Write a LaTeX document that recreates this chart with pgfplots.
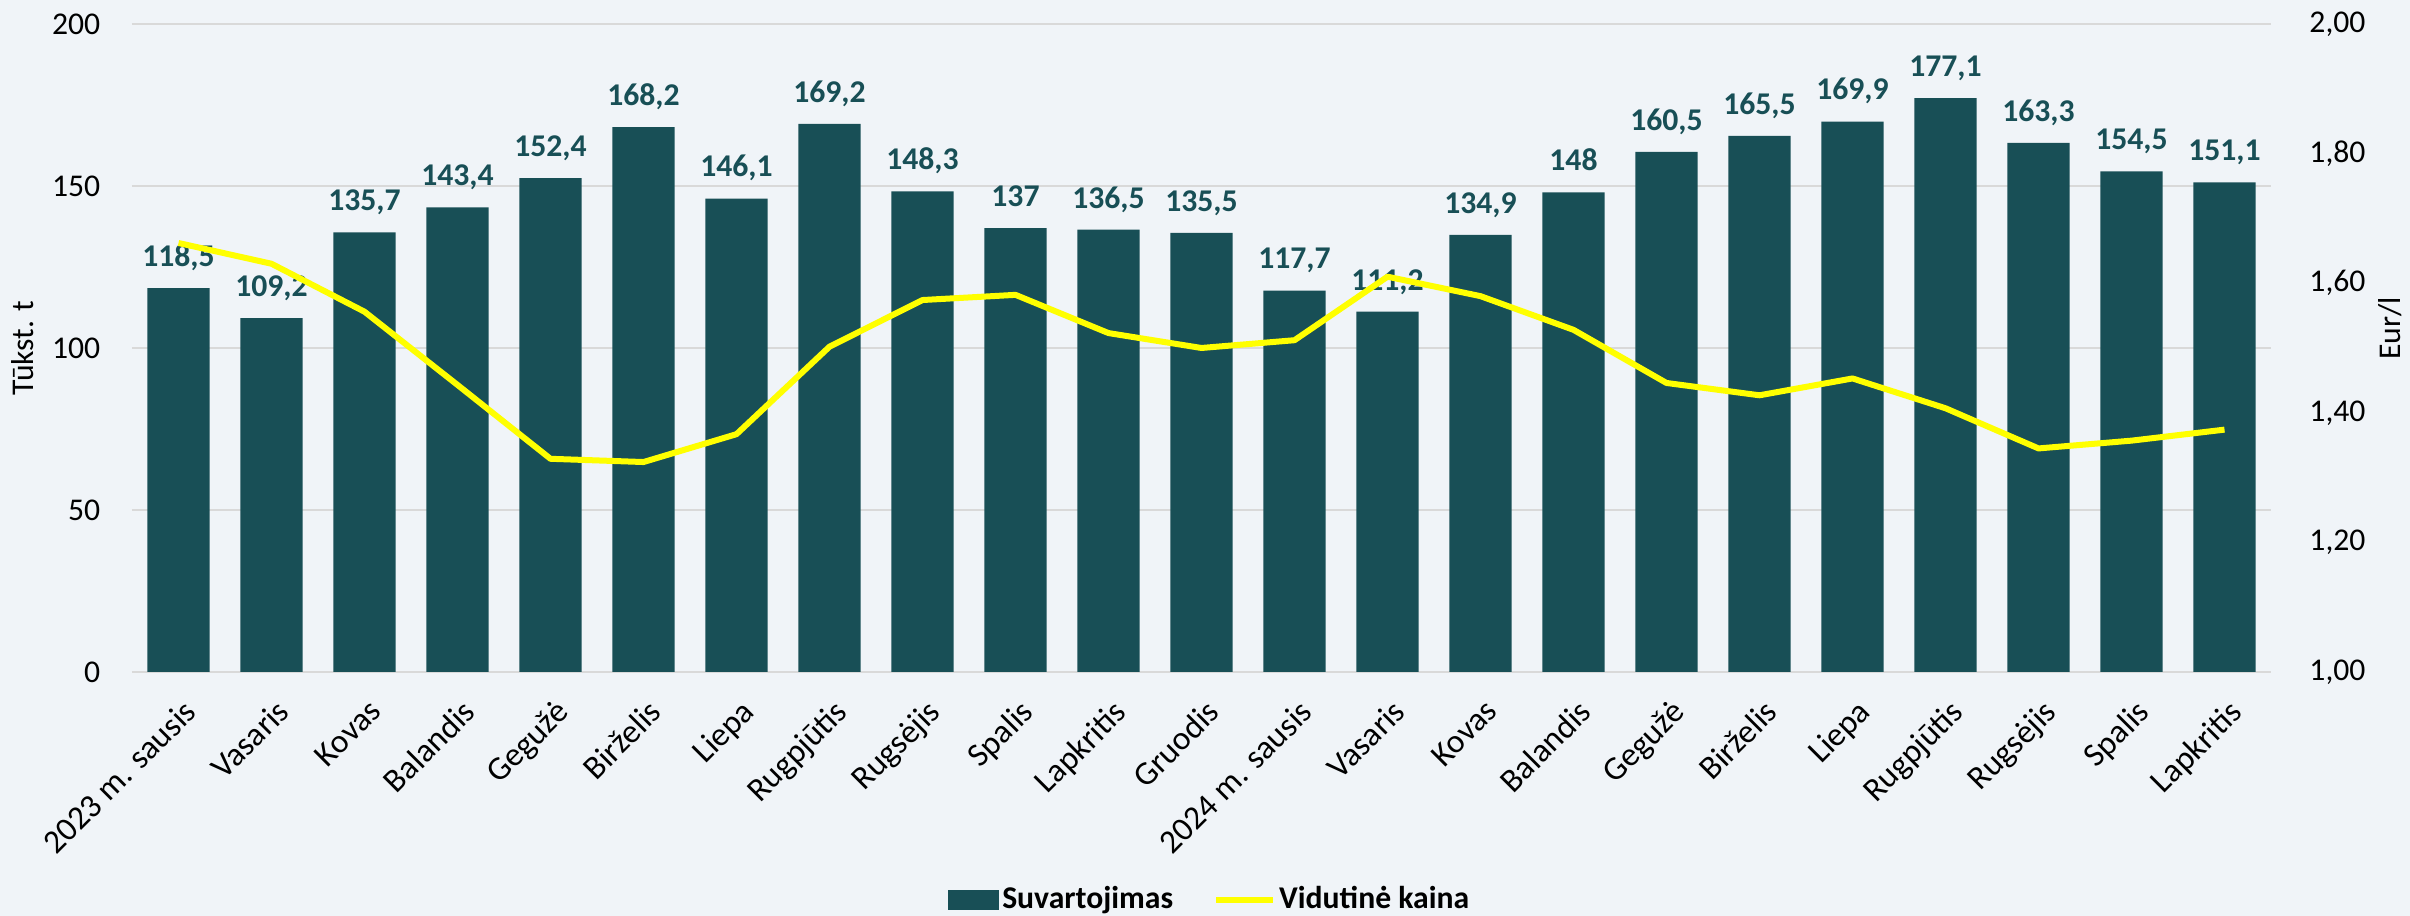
\documentclass[border=0pt]{standalone}
\usepackage{fontspec}
\setmainfont{Carlito}
\usepackage{pgfplots}
\usepackage{pgfplotstable}
\pgfplotsset{compat=1.18}
\definecolor{barc}{HTML}{184F56}
\definecolor{bgc}{HTML}{F0F4F8}
\definecolor{gridc}{HTML}{D9D9D9}
\definecolor{linec}{HTML}{FFFF00}

\pgfplotstableread{
x y lab
0 118.5 118,5
1 109.2 109,2
2 135.7 135,7
3 143.4 143,4
4 152.4 152,4
5 168.2 168,2
6 146.1 146,1
7 169.2 169,2
8 148.3 148,3
9 137.0 137
10 136.5 136,5
11 135.5 135,5
12 117.7 117,7
13 111.2 111,2
14 134.9 134,9
15 148.0 148
16 160.5 160,5
17 165.5 165,5
18 169.9 169,9
19 177.1 177,1
20 163.3 163,3
21 154.5 154,5
22 151.1 151,1
}\bars

\pgfplotstableread{
x p
0 1.662
1 1.630
2 1.556
3 1.443
4 1.329
5 1.324
6 1.367
7 1.502
8 1.574
9 1.582
10 1.523
11 1.500
12 1.512
13 1.610
14 1.580
15 1.528
16 1.446
17 1.427
18 1.453
19 1.407
20 1.345
21 1.357
22 1.374
}\price

\begin{document}
\begin{tikzpicture}[x=1pt,y=1pt]
\useasboundingbox (-39.6,-73.2) rectangle (683.4,201.6);
\fill[bgc] (-39.6,-73.2) rectangle (683.4,201.6);
\begin{axis}[
  at={(0,0)}, anchor=south west, scale only axis,
  width=641.7pt, height=194.4pt,
  xmin=-0.5, xmax=22.5, ymin=0, ymax=200,
  axis x line=bottom, axis y line=left, axis line style={draw=none},
  ytick={0,50,100,150,200},
  ymajorgrids, grid style={gridc, line width=0.6pt},
  major tick length=0pt,
  xtick={0,...,22},
  xticklabels={2023 m. sausis,Vasaris,Kovas,Balandis,Gegužė,Birželis,Liepa,Rugpjūtis,Rugsėjis,Spalis,Lapkritis,Gruodis,2024 m. sausis,Vasaris,Kovas,Balandis,Gegužė,Birželis,Liepa,Rugpjūtis,Rugsėjis,Spalis,Lapkritis},
  x tick label style={xshift=1pt, yshift=-7.5pt, rotate=45, anchor=north east, inner sep=0pt, font=\fontsize{10}{11}\selectfont},
  y tick label style={font=\fontsize{9.5}{11}\selectfont, xshift=-6pt},
  /pgf/number format/assume math mode=true,
  ylabel={Tūkst. t},
  ylabel style={at={(axis description cs:-0.051,0.5)}, anchor=center, font=\fontsize{9.5}{11}\selectfont},
  clip=false,
]
\addplot[ybar, fill=barc, draw=none, bar width=0.667,
  nodes near coords, point meta=explicit symbolic,
  nodes near coords style={anchor=base, yshift=6.5pt, inner sep=0pt, text=barc, font=\fontsize{9.5}{11}\selectfont\bfseries}]
  table[x=x, y=y, meta=lab]{\bars};
\end{axis}
\begin{axis}[
  at={(0,0)}, anchor=south west, scale only axis,
  width=641.7pt, height=194.4pt,
  xmin=-0.5, xmax=22.5, ymin=1, ymax=2,
  axis x line=none, axis y line=right, axis line style={draw=none},
  ytick={1,1.2,1.4,1.6,1.8,2},
  major tick length=0pt,
  y tick label style={font=\fontsize{9.5}{11}\selectfont, xshift=8pt},
  /pgf/number format/.cd, assume math mode=true, fixed, fixed zerofill, precision=2, use comma,
  /pgfplots/.cd,
  ylabel={Eur/l},
  ylabel style={at={(axis description cs:1.0557,0.53)}, anchor=center, rotate=0, font=\fontsize{9.5}{11}\selectfont},
  legend style={at={(axis description cs:0.504,-0.352)}, anchor=center, draw=none, fill=none,
    legend columns=2, font=\fontsize{9.5}{11}\selectfont\bfseries,
    /tikz/every even column/.append style={column sep=11pt},
    nodes={inner sep=1pt}},
  clip=false,
]
\addlegendimage{legend image code/.code={\fill[barc] (0pt,-2.7pt) rectangle (15pt,2.7pt);}}
\addlegendentry{Suvartojimas}
\addplot[linec, line width=1.8pt, line join=round, mark=none,
  legend image code/.code={\draw[linec, line width=1.8pt] (0pt,0pt) -- (17pt,0pt);}]
  table[x=x, y=p]{\price};
\addlegendentry{Vidutinė kaina}
\end{axis}
\end{tikzpicture}
\end{document}
